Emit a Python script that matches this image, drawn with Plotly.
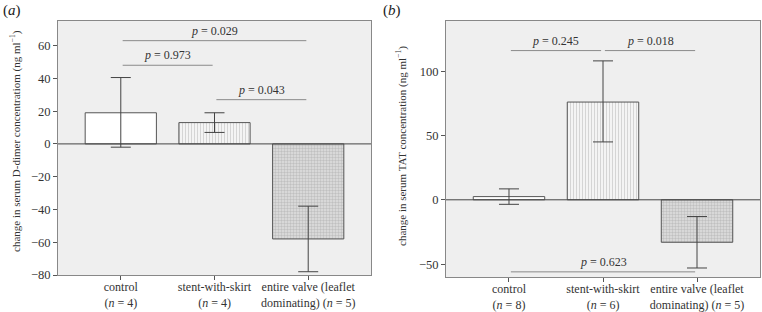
import plotly.graph_objects as go

# ---------------- data ----------------
categories_a = ["control<br>(<i>n</i> = 4)", "stent-with-skirt<br>(<i>n</i> = 4)",
                "entire valve (leaflet<br>dominating) (<i>n</i> = 5)"]
ddimer_mean = [19, 13, -58]
ddimer_err_up = [21.5, 6, 20]
ddimer_err_down = [21, 6, 20]

categories_b = ["control<br>(<i>n</i> = 8)", "stent-with-skirt<br>(<i>n</i> = 6)",
                "entire valve (leaflet<br>dominating) (<i>n</i> = 5)"]
tat_mean = [2.5, 76, -33]
tat_err_up = [6, 32, 20]
tat_err_down = [6, 31, 20]

# brackets: (from category, to category, y level, label)
brackets_a = [(0, 2, 63, "0.029"), (0, 1, 48, "0.973"), (1, 2, 27, "0.043")]
brackets_b = [(0, 1, 116, "0.245"), (1, 2, 116, "0.018"), (0, 2, -56, "0.623")]

yticks_a = [-80, -60, -40, -20, 0, 20, 40, 60]
yticks_b = [-50, 0, 50, 100]

ytitle_a = "change in serum D-dimer concentratiom (ng ml<sup>−1</sup>)"
ytitle_b = "change in serum TAT concentration (ng ml<sup>−1</sup>)"

# ---------------- styling ----------------
FONT = "Times New Roman, Liberation Serif, DejaVu Serif, serif"
EDGE = "#555555"
BG = "#efefef"
W, H = 762, 312

fills = [
    dict(color="white"),
    dict(color="#f2f2f2", pattern=dict(shape="|", fgcolor="#b0b0b0", bgcolor="#f4f4f4",
                                        size=3, solidity=0.3)),
    dict(color="#d4d4d4", pattern=dict(shape=".", fgcolor="#a0a0a0", bgcolor="#e0e0e0",
                                        size=3, solidity=0.5)),
]

fig = go.Figure()

def add_panel(idx, cats, means, up, down, brackets, yticks, yrange):
    xa = "x" if idx == 1 else "x2"
    ya = "y" if idx == 1 else "y2"
    xs = list(range(len(cats)))
    for i in xs:
        fig.add_trace(go.Bar(
            x=[i], y=[means[i]], width=0.76,
            marker=dict(color=fills[i]["color"], pattern=fills[i].get("pattern"),
                        line=dict(color=EDGE, width=1)),
            error_y=dict(type="data", symmetric=False, array=[up[i]], arrayminus=[down[i]],
                         color="#444444", thickness=1, width=10),
            xaxis=xa, yaxis=ya, showlegend=False, hoverinfo="skip"))
    for (a, b, yv, lab) in brackets:
        fig.add_shape(type="line", xref=xa, yref=ya, x0=a + 0.02, x1=b - 0.02, y0=yv, y1=yv,
                      line=dict(color="#8a8a8a", width=1))
        fig.add_annotation(xref=xa, yref=ya, x=(a + b) / 2, y=yv, yanchor="bottom",
                           yshift=1, showarrow=False, text=f"<i>p</i> = {lab}",
                           font=dict(family=FONT, size=12, color="#333"))
    # zero line
    fig.add_shape(type="line", xref=f"{xa} domain", yref=ya, x0=0, x1=1, y0=0, y1=0,
                  line=dict(color="#444", width=1))
    axkey = "" if idx == 1 else "2"
    fig.update_layout(**{
        f"xaxis{axkey}": dict(
            tickvals=xs, ticktext=cats, range=[-0.67, 2.67], ticks="outside", ticklen=4,
            tickcolor="#555", showline=True, linecolor="#888", mirror=True, showgrid=False,
            zeroline=False, ticklabelstandoff=-3, automargin=False,
            tickfont=dict(family=FONT, size=12, color="#333")),
        f"yaxis{axkey}": dict(
            tickvals=yticks, range=yrange, ticks="outside", ticklen=4, tickcolor="#555",
            showline=True, linecolor="#888", mirror=True, showgrid=False, zeroline=False,
            automargin=False, tickfont=dict(family=FONT, size=12.5, color="#333")),
    })

add_panel(1, categories_a, ddimer_mean, ddimer_err_up, ddimer_err_down, brackets_a,
          yticks_a, [-80, 75])
add_panel(2, categories_b, tat_mean, tat_err_up, tat_err_down, brackets_b,
          yticks_b, [-60, 139])

fig.update_layout(
    width=W, height=H, margin=dict(l=0, r=0, t=0, b=0, autoexpand=False),
    paper_bgcolor="white", plot_bgcolor=BG, barmode="overlay",
    xaxis=dict(domain=[58 / W, 371 / W], anchor="y"),
    yaxis=dict(domain=[1 - 275 / H, 1 - 21 / H], anchor="x"),
    xaxis2=dict(domain=[446 / W, 760 / W], anchor="y2"),
    yaxis2=dict(domain=[1 - 277 / H, 1 - 21 / H], anchor="x2"),
)
# y-axis titles
fig.add_annotation(xref="paper", yref="paper", x=16 / W, y=1 - 141 / H, textangle=-90,
                   showarrow=False, text=ytitle_a, xanchor="center", yanchor="middle",
                   font=dict(family=FONT, size=11, color="#333"))
fig.add_annotation(xref="paper", yref="paper", x=401 / W, y=1 - 146 / H, textangle=-90,
                   showarrow=False, text=ytitle_b, xanchor="center", yanchor="middle",
                   font=dict(family=FONT, size=11, color="#333"))
# panel labels
fig.add_annotation(xref="paper", yref="paper", x=1 / W, y=1 - 10 / H, xanchor="left",
                   yanchor="middle", showarrow=False, text="(<i>a</i>)",
                   font=dict(family=FONT, size=15, color="#222"))
fig.add_annotation(xref="paper", yref="paper", x=381 / W, y=1 - 10 / H, xanchor="left",
                   yanchor="middle", showarrow=False, text="(<i>b</i>)",
                   font=dict(family=FONT, size=15, color="#222"))

fig.write_html("out.html", config={"displayModeBar": False},
               post_script="document.body.style.margin='0';document.body.style.overflow='hidden';")
